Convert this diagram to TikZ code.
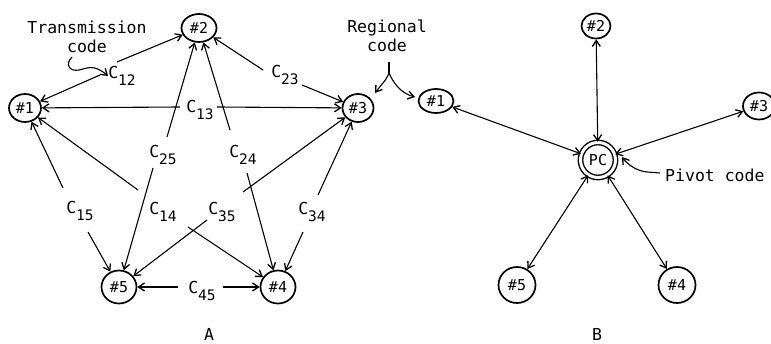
\documentclass[tikz,border=0pt]{standalone}
\usepackage{fontspec}
\setmonofont{DejaVu Sans Mono}
\usetikzlibrary{arrows.meta,shapes.geometric}
% code label: a C with a lowered index
\newcommand{\Csub}[1]{C\raisebox{-7pt}{\fontsize{14.5}{14.5}\selectfont #1}}

\begin{document}
\begin{tikzpicture}[x=1pt,y=-1pt,
  font=\ttfamily\fontsize{16.5}{19}\selectfont,
  site/.style={ellipse, draw, line width=1.7pt, inner sep=0pt,
    font=\ttfamily\fontsize{15}{15}\selectfont},
  barb/.tip={Straight Barb[length=6pt,width=8pt,line width=1.3pt]},
  link/.style={line width=1.1pt, -barb},
  both/.style={line width=1.1pt, barb-barb},
  note/.style={line width=1.1pt, -barb},
  code/.style={inner sep=0pt}
]
\useasboundingbox (0,0) rectangle (771,344);

% ---------------- A: direct transmission codes ----------------
\node[site, minimum width=32, minimum height=28] (a1) at (25,108) {\#1};
\node[site, minimum width=35, minimum height=28] (a2) at (199,28) {\#2};
\node[site, minimum width=31, minimum height=28] (a3) at (358,108) {\#3};
\node[site, minimum width=35, minimum height=33] (a4) at (278,287) {\#4};
\node[site, minimum width=35, minimum height=33] (a5) at (119,287) {\#5};

\node[code] (c12) at (122,76) {\Csub{12}};
\node[code] (c23) at (285,75) {\Csub{23}};
\node[code] (c13) at (200,110) {\Csub{13}};
\node[code] (c25) at (163,155) {\Csub{25}};
\node[code] (c24) at (243,155) {\Csub{24}};
\node[code] (c15) at (80,211) {\Csub{15}};
\node[code] (c14) at (163,212) {\Csub{14}};
\node[code] (c35) at (222,212) {\Csub{35}};
\node[code] (c34) at (312,212) {\Csub{34}};
\node[code] (c45) at (202,291) {\Csub{45}};

% ends of each link on either side of its label
\coordinate (g12a) at (100,75);  \coordinate (g12b) at (117,62);
\coordinate (g23a) at (263,70);  \coordinate (g23b) at (302,85);
\coordinate (g13a) at (180,107); \coordinate (g13b) at (217,107);
\coordinate (g25a) at (153,168); \coordinate (g25b) at (167,137);
\coordinate (g24a) at (230,130); \coordinate (g24b) at (247,173);
\coordinate (g15a) at (63,188);  \coordinate (g15b) at (88,232);
\coordinate (g14a) at (138,190); \coordinate (g14b) at (188,227);
\coordinate (g35a) at (243,192); \coordinate (g35b) at (207,220);
\coordinate (g34a) at (318,195); \coordinate (g34b) at (303,232);
\coordinate (g45a) at (178,287); \coordinate (g45b) at (223,287);

\draw[link] (g12a) -- (a1);  \draw[link] (g12b) -- (a2);
\draw[link] (g23a) -- (a2);  \draw[link] (g23b) -- (a3);
\draw[link] (g13a) -- (a1);  \draw[link] (g13b) -- (a3);
\draw[link] (g25a) -- (a5);  \draw[link] (g25b) -- (a2);
\draw[link] (g24a) -- (a2);  \draw[link] (g24b) -- (a4);
\draw[link] (g15a) -- (a1);  \draw[link] (g15b) -- (a5);
\draw[link] (g14a) -- (a1);  \draw[link] (g14b) -- (a4);
\draw[link] (g35a) -- (a3);  \draw[link] (g35b) -- (a5);
\draw[link] (g34a) -- (a3);  \draw[link] (g34b) -- (a4);
\draw[link] (g45a) -- (a5);  \draw[link] (g45b) -- (a4);

% "Transmission code" callout
\node[align=center, inner sep=0pt] (tc) at (87,37) {Transmission\\code};
\coordinate (tcs) at (72,57);
\draw[note] (tcs) .. controls (65,64) and (69,72) .. (79,70)
  .. controls (88,68) and (94,64) .. (c12.west);

\node at (209,334) {A};

% ---------------- B: pivot code ----------------
\node[site, minimum width=35, minimum height=35, double, double distance=3pt,
  line width=1.4pt] (pc) at (598,160) {PC};
\node[site, minimum width=35, minimum height=24] (b1) at (436,101) {\#1};
\node[site, minimum width=29, minimum height=25] (b2) at (596,26) {\#2};
\node[site, minimum width=32, minimum height=27] (b3) at (759,106) {\#3};
\node[site, minimum width=37, minimum height=36] (b4) at (677,285) {\#4};
\node[site, minimum width=37, minimum height=36] (b5) at (517,285) {\#5};

\foreach \n in {b1,b2,b3,b4,b5} \draw[both] (pc) -- (\n);

% "Regional code" callout with its forked arrow
\node[align=center, inner sep=0pt] (rc) at (387,36) {Regional\\code};
\coordinate (rcs) at (389,62);
\coordinate (rcf) at (389,73);
\coordinate (rcl) at (375,93);
\coordinate (rcr) at (415,97);
\draw[line width=1.1pt] (rcs) -- (rcf);
\draw[note] (rcf) .. controls (386,81) and (380,86) .. (rcl);
\draw[note] (rcf) .. controls (393,82) and (400,93) .. (rcr);

% "Pivot code" callout
\node[anchor=west, inner sep=0pt] (pv) at (665,175) {Pivot code};
\draw[note] (pv.west) ++(-5,-2) -- ++(-13,-1) .. controls (637,171) and (628,165) .. (622,157);

\node at (597,334) {B};
\end{tikzpicture}
\end{document}
